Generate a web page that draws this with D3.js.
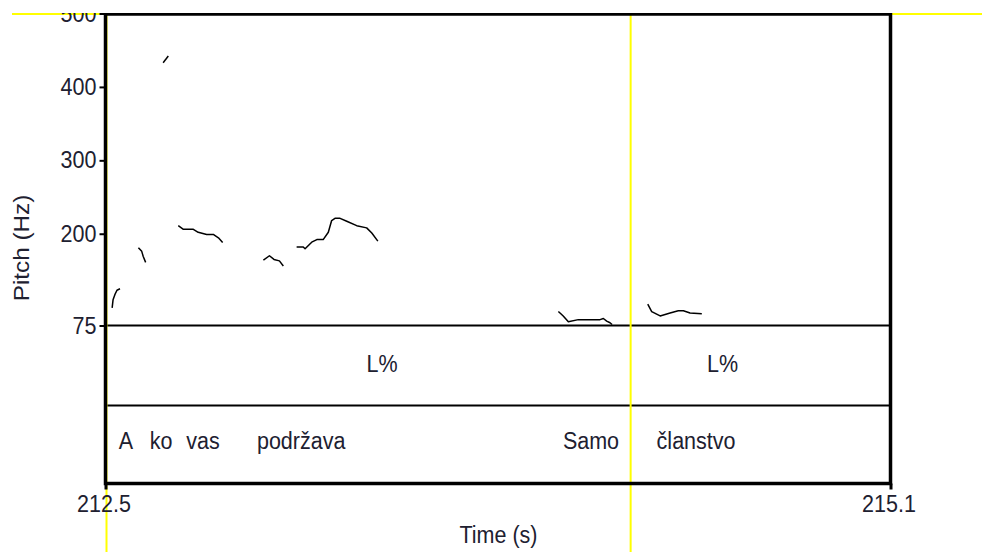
<!DOCTYPE html>
<html>
<head>
<meta charset="utf-8">
<script src="https://cdn.jsdelivr.net/npm/d3@7"></script>
<style>
  body { margin: 0; background: #fff; }
  svg { display: block; }
</style>
</head>
<body>
<svg id="pitchPlot" width="982" height="552"></svg>
<script>
const svg = d3.select("#pitchPlot");
const width = +svg.attr("width");
const height = +svg.attr("height");

const timeDomain = [212.5, 215.1];
const pitchDomain = [75, 500];
const pitchTicks = [75, 200, 300, 400, 500];

// pitch track pieces, [time (s), pitch (Hz)]
const pitchSegments = [
  [[212.691, 433], [212.708, 442]],
  [[212.522, 99], [212.525, 110], [212.531, 117], [212.538, 123], [212.548, 125]],
  [[212.609, 181], [212.620, 176], [212.625, 169], [212.633, 161]],
  [[212.741, 211], [212.758, 206], [212.791, 206], [212.807, 202], [212.835, 199],
   [212.857, 199], [212.874, 194.5], [212.888, 188]],
  [[213.023, 164], [213.043, 170], [213.058, 165], [213.076, 163], [213.089, 156]],
  [[213.133, 182], [213.155, 182], [213.161, 179.5], [213.183, 188.5], [213.200, 192],
   [213.221, 192], [213.238, 202], [213.249, 218], [213.260, 221], [213.277, 221],
   [213.299, 217], [213.332, 211], [213.365, 208], [213.382, 201], [213.402, 190]],
  [[214.000, 94], [214.016, 88], [214.033, 80], [214.066, 83], [214.138, 83],
   [214.149, 84.5], [214.160, 81], [214.171, 78.7], [214.178, 76.4]],
  [[214.296, 104], [214.309, 94], [214.337, 88], [214.370, 92], [214.397, 95],
   [214.414, 95], [214.436, 92], [214.475, 91]]
];

const toneTimes = [213.416, 214.544];
const toneTexts = ["L%", "L%"];
const wordTimes = [212.568, 212.684, 212.823, 213.148, 214.108, 214.456];
const wordTexts = ["A", "ko", "vas", "podržava", "Samo", "članstvo"];

const cursorTimes = [212.5, 214.236];
const cursorPitch = 500;

const frameLeft = 105.5, frameRight = 890.5, frameTop = 14;
const pitchBottom = 325.5, tierSplit = 405.5, frameBottom = 483.5;

const x = d3.scaleLinear().domain(timeDomain).range([frameLeft, frameRight]);
const y = d3.scaleLinear().domain(pitchDomain).range([pitchBottom, 13.5]);

const ink = "#202030";
const font = "'Liberation Sans', Arial, sans-serif";
const stretch = 1.13; // text in the picture is a bit tall

svg.append("clipPath").attr("id", "pageClip")
  .append("rect").attr("x", 0).attr("y", 13).attr("width", width).attr("height", height - 13);
const g = svg.append("g").attr("clip-path", "url(#pageClip)");

function label(sel, tx, ty, text) {
  return sel.append("text")
    .attr("transform", `translate(${tx},${ty}) scale(1,${stretch})`)
    .attr("text-anchor", "middle")
    .attr("font-family", font)
    .attr("font-size", 21.5)
    .attr("fill", ink)
    .text(text);
}

// yellow cursors
g.append("line")
  .attr("x1", 12).attr("x2", width)
  .attr("y1", y(cursorPitch) + 0.5).attr("y2", y(cursorPitch) + 0.5)
  .attr("stroke", "#ffff00").attr("stroke-width", 2);

// tier lines
[pitchBottom, tierSplit].forEach(yy => {
  g.append("line")
    .attr("x1", frameLeft).attr("x2", frameRight)
    .attr("y1", yy).attr("y2", yy)
    .attr("stroke", "#000").attr("stroke-width", 2);
});

g.selectAll(".cursor")
  .data(cursorTimes)
  .join("line")
  .attr("class", "cursor")
  .attr("x1", d => x(d) + 1).attr("x2", d => x(d) + 1)
  .attr("y1", frameTop).attr("y2", height)
  .attr("stroke", "#ffff00").attr("stroke-width", 2);

// pitch contours
const line = d3.line().x(d => x(d[0])).y(d => y(d[1]));
g.selectAll(".pitch")
  .data(pitchSegments)
  .join("path")
  .attr("class", "pitch")
  .attr("fill", "none")
  .attr("stroke", "#000")
  .attr("stroke-width", 1.5)
  .attr("stroke-linejoin", "round")
  .attr("d", line);

// frame
g.append("rect")
  .attr("x", frameLeft).attr("y", frameTop)
  .attr("width", frameRight - frameLeft).attr("height", frameBottom - frameTop)
  .attr("fill", "none").attr("stroke", "#000").attr("stroke-width", 3.5);

// left axis
const yAxis = g.append("g")
  .attr("transform", `translate(${frameLeft},0)`)
  .call(d3.axisLeft(y).tickValues(pitchTicks).tickSize(6).tickPadding(3).tickSizeOuter(0));
yAxis.select(".domain").remove();
yAxis.selectAll(".tick line").attr("stroke", "#000").attr("stroke-width", 2);
yAxis.selectAll(".tick text")
  .attr("x", null).attr("dy", null)
  .attr("transform", `translate(-9,7.5) scale(1,${stretch})`)
  .attr("font-family", font).attr("font-size", 21.5).attr("fill", ink);

// bottom axis
const xAxis = g.append("g")
  .attr("transform", `translate(0,${frameBottom})`)
  .call(d3.axisBottom(x).tickValues(timeDomain).tickFormat(d3.format(".1f")).tickSize(6).tickSizeOuter(0));
xAxis.select(".domain").remove();
xAxis.selectAll(".tick line").attr("stroke", "#000").attr("stroke-width", 3);
xAxis.selectAll(".tick text")
  .attr("y", null).attr("dy", null)
  .attr("transform", `translate(-2,28) scale(1,${stretch})`)
  .attr("font-family", font).attr("font-size", 21.5).attr("fill", ink);

// axis titles
label(g, (frameLeft + frameRight) / 2 + 0.5, 543, "Time (s)");
g.append("text")
  .attr("transform", `translate(29,248) scale(1,${stretch}) rotate(-90)`)
  .attr("text-anchor", "middle")
  .attr("font-family", font)
  .attr("font-size", 21.5)
  .attr("fill", ink)
  .text("Pitch (Hz)");

// tier labels
toneTimes.forEach((t, i) => label(g, x(t), 372, toneTexts[i]));
wordTimes.forEach((t, i) => label(g, x(t), 449, wordTexts[i]));
</script>
</body>
</html>
